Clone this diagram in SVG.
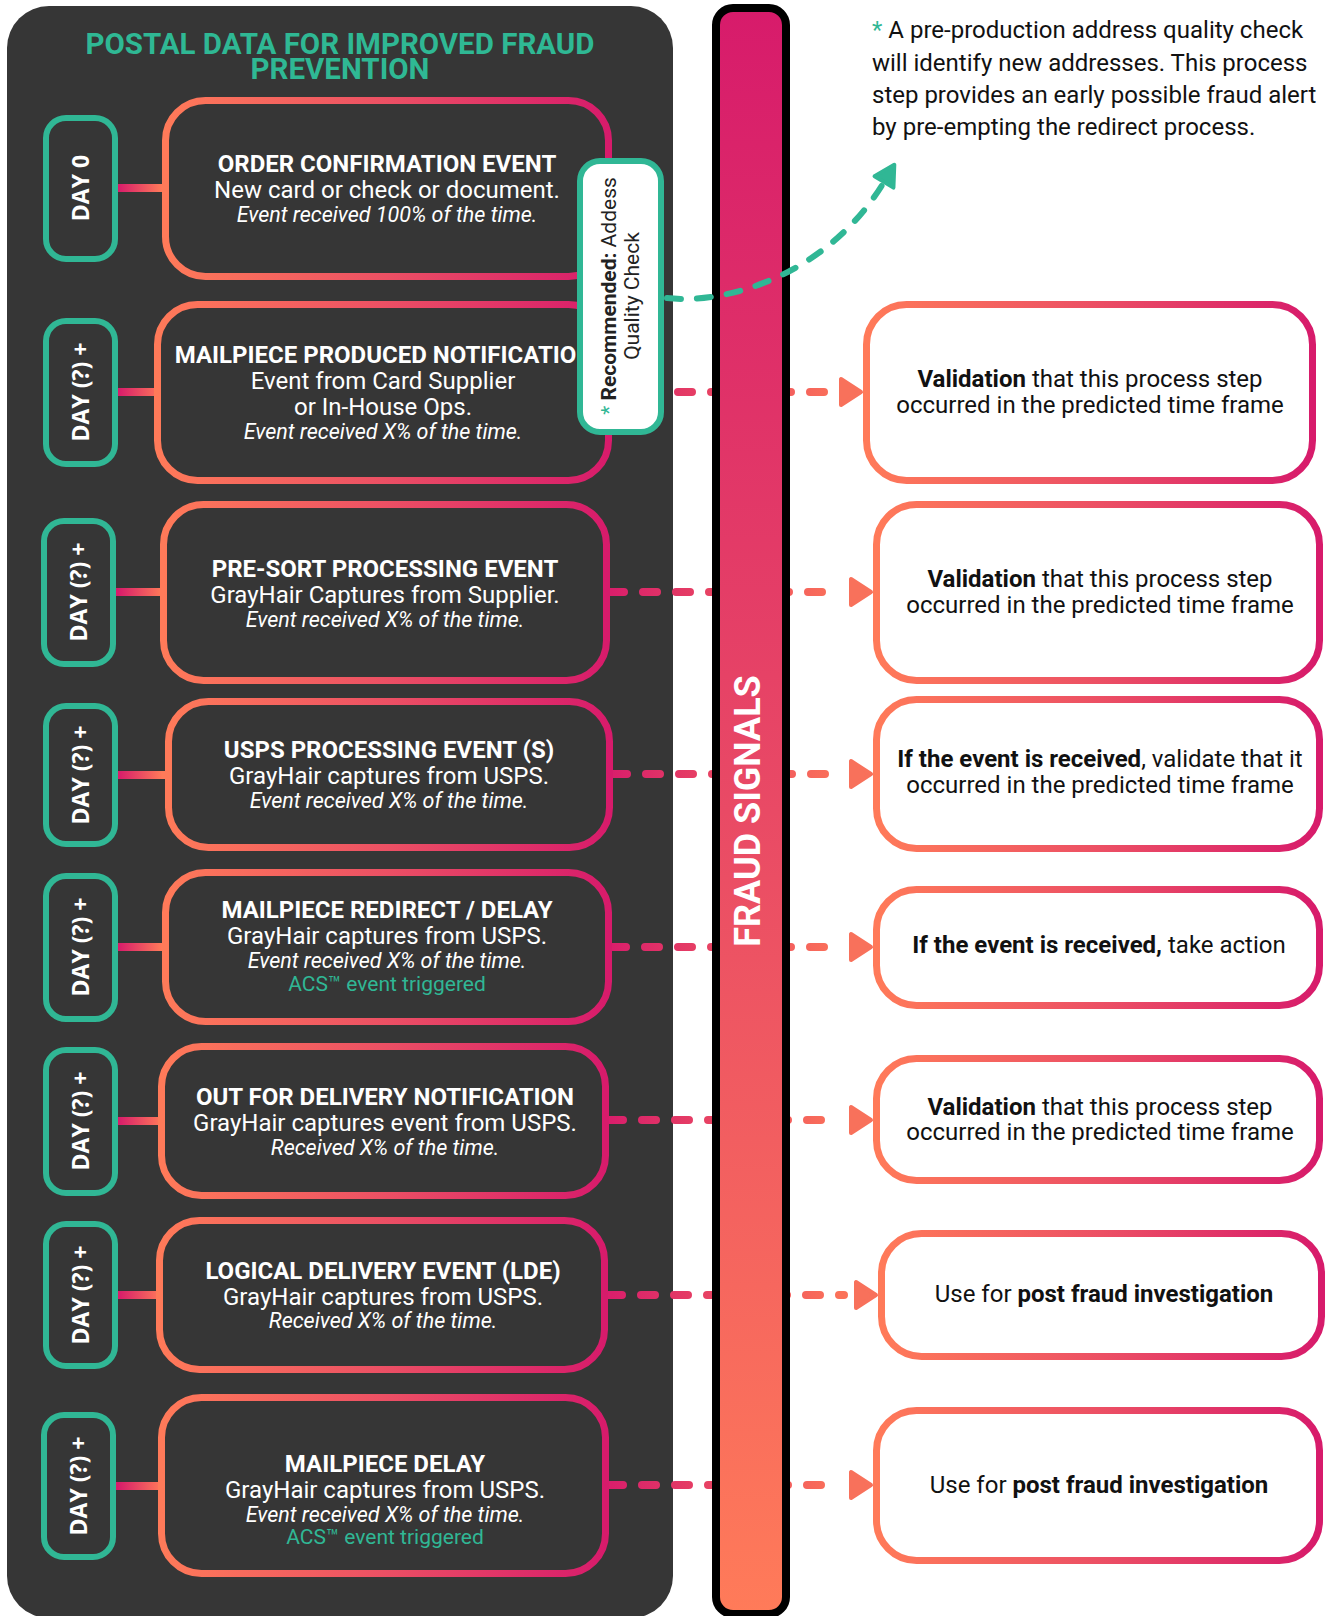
<svg xmlns="http://www.w3.org/2000/svg" width="1327" height="1616" viewBox="0 0 1327 1616">
<defs>
<linearGradient id="gb" x1="0" y1="0" x2="1" y2="0">
<stop offset="0" stop-color="#ff7a59"/><stop offset="0.5" stop-color="#ec5064"/><stop offset="1" stop-color="#d71b6b"/>
</linearGradient>
<linearGradient id="gbar" x1="0" y1="0" x2="0" y2="1">
<stop offset="0" stop-color="#d71b6b"/><stop offset="0.5" stop-color="#e94a65"/><stop offset="1" stop-color="#ff7b59"/>
</linearGradient>
<linearGradient id="gc" gradientUnits="userSpaceOnUse" x1="118" y1="0" x2="162" y2="0">
<stop offset="0" stop-color="#d71b6b"/><stop offset="1" stop-color="#ff7a59"/>
</linearGradient>
<linearGradient id="gd" gradientUnits="userSpaceOnUse" x1="612" y1="0" x2="840" y2="0">
<stop offset="0" stop-color="#d91f6b"/><stop offset="1" stop-color="#fb7259"/>
</linearGradient>
<marker id="ta" markerUnits="userSpaceOnUse" viewBox="-4 -16 30 32" markerWidth="30" markerHeight="32" refX="0" refY="0" orient="auto">
<path d="M0,-11 L20,0 L0,11 Z" fill="#30b795" stroke="#30b795" stroke-width="4" stroke-linejoin="round"/>
</marker>
</defs>
<style>
.box{fill:#363636;stroke:url(#gb);stroke-width:7}
.rbox{fill:#fff;stroke:url(#gb);stroke-width:7}
.pill{fill:#363636;stroke:#30b795;stroke-width:6}
.day{font-family:"Open Sans",sans-serif;font-weight:700;font-size:23px;fill:#fff;text-anchor:middle}
.et{font-family:Roboto,"Noto Sans",sans-serif;fill:#fff;text-anchor:middle;font-size:24px}
.b{font-weight:700}
.i{font-style:italic;font-size:21.5px}
.acs{fill:#30b795;font-size:21px}
.rt{font-family:Roboto,"Noto Sans",sans-serif;fill:#111;font-size:24px;text-anchor:middle}
.dash{stroke:url(#gd);stroke-width:8;stroke-linecap:round;stroke-dasharray:14 19;fill:none}
.arr{fill:#f8715b;stroke:#f8715b;stroke-width:4;stroke-linejoin:round}
.conn{stroke:url(#gc);stroke-width:8}
</style>
<rect x="0" y="0" width="1327" height="1616" fill="#fff"/>

<g id="panel">
<rect x="7" y="6" width="666" height="1612" rx="42" fill="#363636"/>
<text font-family="Roboto,sans-serif" font-weight="700" font-size="29.5" fill="#2fb894" text-anchor="middle"><tspan x="340" y="54">POSTAL DATA FOR IMPROVED FRAUD</tspan><tspan x="340" y="79">PREVENTION</tspan></text>
</g>

<g id="connectors">
<line class="conn" x1="116" y1="188" x2="165" y2="188"/>
<line class="conn" x1="116" y1="392" x2="157" y2="392"/>
<line class="conn" x1="116" y1="592" x2="163" y2="592"/>
<line class="conn" x1="116" y1="775" x2="168" y2="775"/>
<line class="conn" x1="116" y1="947" x2="165" y2="947"/>
<line class="conn" x1="116" y1="1121" x2="161" y2="1121"/>
<line class="conn" x1="116" y1="1295" x2="159" y2="1295"/>
<line class="conn" x1="116" y1="1486" x2="161" y2="1486"/>
<line class="dash" x1="612" y1="392" x2="829" y2="392"/>
<line class="dash" x1="610" y1="592" x2="839" y2="592"/>
<line class="dash" x1="613" y1="774" x2="839" y2="774"/>
<line class="dash" x1="612" y1="947" x2="839" y2="947"/>
<line class="dash" x1="609" y1="1120" x2="839" y2="1120"/>
<line class="dash" x1="608" y1="1295" x2="844" y2="1295"/>
<line class="dash" x1="609" y1="1485" x2="839" y2="1485"/>
</g>

<g id="day0"><rect class="pill" x="46" y="118" width="69" height="141" rx="20"/><text class="day" transform="translate(89,188) rotate(-90)">DAY 0</text></g>
<g id="day2"><rect class="pill" x="46" y="321" width="69" height="143" rx="20"/><text class="day" transform="translate(89,392) rotate(-90)">DAY (?) +</text></g>
<g id="day3"><rect class="pill" x="44" y="521" width="69" height="143" rx="20"/><text class="day" transform="translate(87,592) rotate(-90)">DAY (?) +</text></g>
<g id="day4"><rect class="pill" x="46" y="706" width="69" height="138" rx="20"/><text class="day" transform="translate(89,775) rotate(-90)">DAY (?) +</text></g>
<g id="day5"><rect class="pill" x="46" y="876" width="69" height="143" rx="20"/><text class="day" transform="translate(89,947) rotate(-90)">DAY (?) +</text></g>
<g id="day6"><rect class="pill" x="46" y="1050" width="69" height="143" rx="20"/><text class="day" transform="translate(89,1121) rotate(-90)">DAY (?) +</text></g>
<g id="day7"><rect class="pill" x="46" y="1224" width="69" height="142" rx="20"/><text class="day" transform="translate(89,1295) rotate(-90)">DAY (?) +</text></g>
<g id="day8"><rect class="pill" x="44" y="1415" width="69" height="142" rx="20"/><text class="day" transform="translate(87,1486) rotate(-90)">DAY (?) +</text></g>

<g id="ev-order"><rect class="box" x="165.5" y="100.5" width="443" height="176" rx="40"/>
<text class="et b" x="387" y="172">ORDER CONFIRMATION EVENT</text>
<text class="et" x="387" y="198">New card or check or document.</text>
<text class="et i" x="387" y="222">Event received 100% of the time.</text></g>

<g id="ev-produced"><rect class="box" x="157.5" y="304.5" width="451" height="176" rx="40"/>
<text class="et b" x="384" y="363">MAILPIECE PRODUCED NOTIFICATION</text>
<text class="et" x="383" y="389">Event from Card Supplier</text>
<text class="et" x="383" y="415">or In-House Ops.</text>
<text class="et i" x="383" y="439">Event received X% of the time.</text></g>

<g id="ev-presort"><rect class="box" x="163.5" y="504.5" width="443" height="176" rx="40"/>
<text class="et b" x="385" y="577">PRE-SORT PROCESSING EVENT</text>
<text class="et" x="385" y="603">GrayHair Captures from Supplier.</text>
<text class="et i" x="385" y="627">Event received X% of the time.</text></g>

<g id="ev-usps"><rect class="box" x="168.5" y="701.5" width="441" height="146" rx="40"/>
<text class="et b" x="389" y="758">USPS PROCESSING EVENT (S)</text>
<text class="et" x="389" y="784">GrayHair captures from USPS.</text>
<text class="et i" x="389" y="808">Event received X% of the time.</text></g>

<g id="ev-redirect"><rect class="box" x="165.5" y="872.5" width="443" height="149" rx="40"/>
<text class="et b" x="387" y="918">MAILPIECE REDIRECT / DELAY</text>
<text class="et" x="387" y="944">GrayHair captures from USPS.</text>
<text class="et i" x="387" y="968">Event received X% of the time.</text>
<text class="et acs" x="387" y="991">ACS™ event triggered</text></g>

<g id="ev-outfordelivery"><rect class="box" x="161.5" y="1046.5" width="444" height="149" rx="40"/>
<text class="et b" x="385" y="1105">OUT FOR DELIVERY NOTIFICATION</text>
<text class="et" x="385" y="1131">GrayHair captures event from USPS.</text>
<text class="et i" x="385" y="1155">Received X% of the time.</text></g>

<g id="ev-lde"><rect class="box" x="159.5" y="1220.5" width="445" height="149" rx="40"/>
<text class="et b" x="383" y="1279">LOGICAL DELIVERY EVENT (LDE)</text>
<text class="et" x="383" y="1305">GrayHair captures from USPS.</text>
<text class="et i" x="383" y="1328">Received X% of the time.</text></g>

<g id="ev-delay"><rect class="box" x="161.5" y="1397.5" width="444" height="176" rx="40"/>
<text class="et b" x="385" y="1472">MAILPIECE DELAY</text>
<text class="et" x="385" y="1498">GrayHair captures from USPS.</text>
<text class="et i" x="385" y="1522">Event received X% of the time.</text>
<text class="et acs" x="385" y="1544">ACS™ event triggered</text></g>

<g id="fraud-signals">
<rect x="716" y="8" width="70" height="1606" rx="17" fill="url(#gbar)" stroke="#000" stroke-width="8"/>
<text transform="translate(760,811) rotate(-90)" font-family="Roboto,sans-serif" font-weight="700" font-size="36" fill="#fff" text-anchor="middle">FRAUD SIGNALS</text>
</g>

<g id="recommended">
<rect x="580" y="161" width="81" height="271" rx="20" fill="#fff" stroke="#30b795" stroke-width="6"/>
<text transform="translate(616,296) rotate(-90)" font-family="Roboto,sans-serif" font-size="21" fill="#222" text-anchor="middle"><tspan fill="#30b795">*</tspan> <tspan font-weight="700">Recommended:</tspan> Addess</text>
<text transform="translate(639,296) rotate(-90)" font-family="Roboto,sans-serif" font-size="21" fill="#222" text-anchor="middle">Quality Check</text>
</g>

<g id="teal-connector">
<path d="M667,298 C730,305 830,272 884,182" fill="none" stroke="#30b795" stroke-width="6" stroke-linecap="round" stroke-dasharray="14 16" marker-end="url(#ta)"/>
</g>

<g id="note">
<text font-family="Roboto,sans-serif" font-size="24" fill="#111">
<tspan x="872" y="38"><tspan fill="#30b795">*</tspan> A pre-production address quality check</tspan>
<tspan x="872" y="70.5">will identify new addresses. This process</tspan>
<tspan x="872" y="103">step provides an early possible fraud alert</tspan>
<tspan x="872" y="135">by pre-empting the redirect process.</tspan>
</text>
</g>

<g id="arrows">
<polygon class="arr" points="861,392 841,379 841,405"/>
<polygon class="arr" points="871,592 851,579 851,605"/>
<polygon class="arr" points="871,774 851,761 851,787"/>
<polygon class="arr" points="871,947 851,934 851,960"/>
<polygon class="arr" points="871,1120 851,1107 851,1133"/>
<polygon class="arr" points="876,1295 856,1282 856,1308"/>
<polygon class="arr" points="871,1485 851,1472 851,1498"/>
</g>

<g id="sig-1"><rect class="rbox" x="866.5" y="304.5" width="446" height="176" rx="40"/>
<text class="rt" x="1090" y="387"><tspan font-weight="700">Validation</tspan> that this process step</text>
<text class="rt" x="1090" y="413">occurred in the predicted time frame</text></g>

<g id="sig-2"><rect class="rbox" x="876.5" y="504.5" width="443" height="176" rx="40"/>
<text class="rt" x="1100" y="587"><tspan font-weight="700">Validation</tspan> that this process step</text>
<text class="rt" x="1100" y="613">occurred in the predicted time frame</text></g>

<g id="sig-3"><rect class="rbox" x="876.5" y="699.5" width="443" height="149" rx="40"/>
<text class="rt" x="1100" y="767"><tspan font-weight="700">If the event is received</tspan>, validate that it</text>
<text class="rt" x="1100" y="793">occurred in the predicted time frame</text></g>

<g id="sig-4"><rect class="rbox" x="876.5" y="889.5" width="443" height="116" rx="40"/>
<text class="rt" x="1099" y="953"><tspan font-weight="700">If the event is received,</tspan> take action</text></g>

<g id="sig-5"><rect class="rbox" x="876.5" y="1058.5" width="443" height="122" rx="40"/>
<text class="rt" x="1100" y="1115"><tspan font-weight="700">Validation</tspan> that this process step</text>
<text class="rt" x="1100" y="1140">occurred in the predicted time frame</text></g>

<g id="sig-6"><rect class="rbox" x="881.5" y="1233.5" width="440" height="123" rx="40"/>
<text class="rt" x="1104" y="1302">Use for <tspan font-weight="700">post fraud investigation</tspan></text></g>

<g id="sig-7"><rect class="rbox" x="876.5" y="1410.5" width="443" height="150" rx="40"/>
<text class="rt" x="1099" y="1493">Use for <tspan font-weight="700">post fraud investigation</tspan></text></g>
</svg>
